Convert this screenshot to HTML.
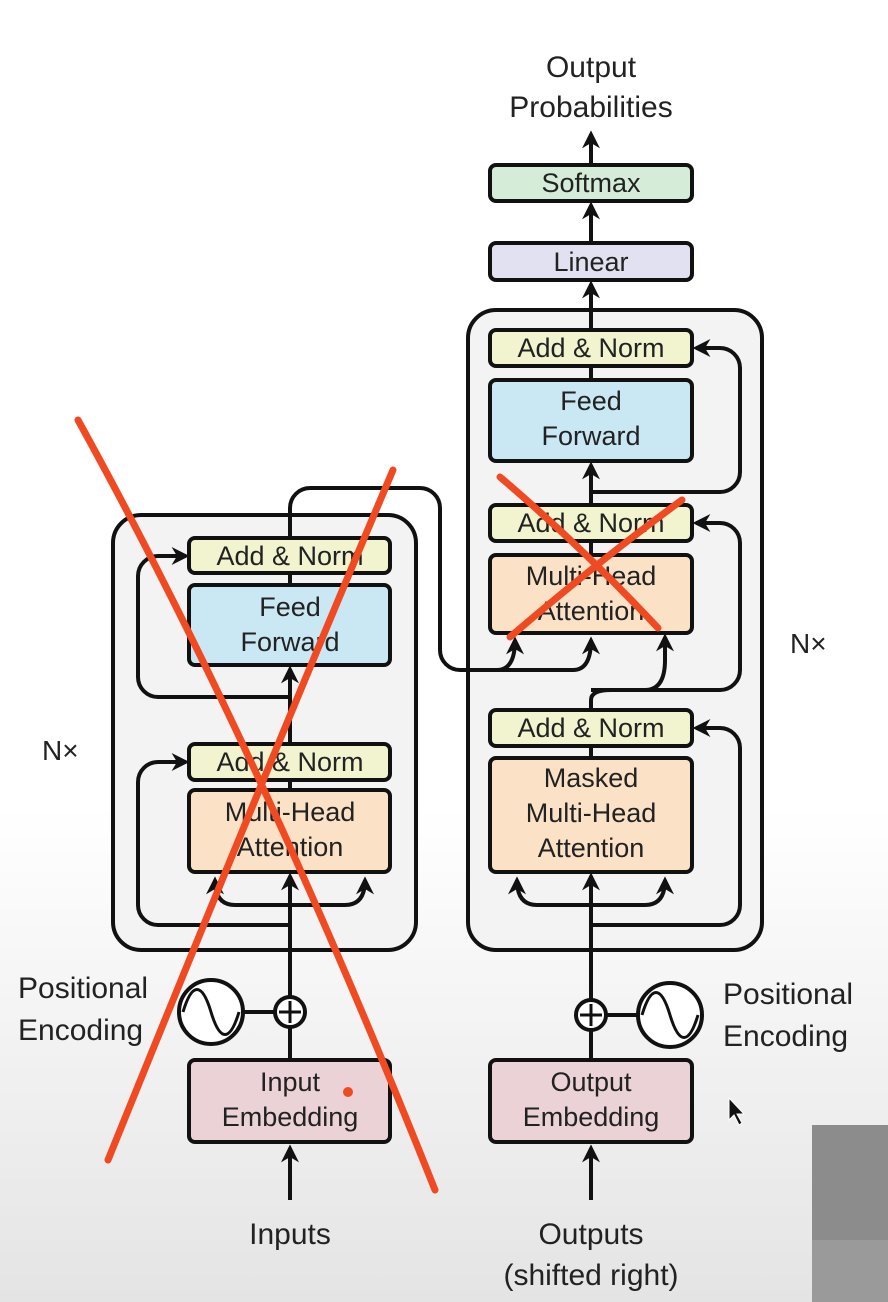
<!DOCTYPE html>
<html><head><meta charset="utf-8"><style>
html,body{margin:0;padding:0;width:888px;height:1302px;overflow:hidden;background:#fff}
svg{display:block}
text{font-family:"Liberation Sans",sans-serif;fill:#222}
</style></head><body>
<svg width="888" height="1302" viewBox="0 0 888 1302" xmlns="http://www.w3.org/2000/svg">
<defs>
<linearGradient id="bg" x1="0" y1="0" x2="0" y2="1">
<stop offset="0" stop-color="#fff"/><stop offset="0.62" stop-color="#fff"/><stop offset="1" stop-color="#e4e4e4"/>
</linearGradient>
<marker id="a" viewBox="0 0 10 10" refX="8" refY="5" markerWidth="4.5" markerHeight="4.5" orient="auto"><path d="M0,0L10,5L0,10L3,5z" fill="#111"/></marker>
</defs>
<rect width="888" height="1302" fill="url(#bg)"/>
<rect x="812" y="1125" width="76" height="177" fill="#8c8c8c"/>
<rect x="812" y="1240" width="76" height="62" fill="#9a9a9a"/>
<g stroke="#111" stroke-width="4" fill="none">
<rect x="113" y="515" width="303" height="435" rx="28" fill="#f3f3f3"/>
<rect x="468" y="310" width="294" height="640" rx="28" fill="#f3f3f3"/>
</g>
<g stroke="#111" stroke-width="4" fill="none" stroke-linejoin="round">
<path d="M290,1200V1148" marker-end="url(#a)"/>
<path d="M290,1060V1028"/>
<path d="M290,996V876" marker-end="url(#a)"/>
<path d="M290,925H158a20,20 0 0 1-20-20V782a20,20 0 0 1 20-20H186" marker-end="url(#a)"/>
<path d="M290,905H235q-20,0-20-25" marker-end="url(#a)"/>
<path d="M290,905H345q20,0 20-25" marker-end="url(#a)"/>
<path d="M290,790V780"/><path d="M290,744V669" marker-end="url(#a)"/>
<path d="M290,697H158a20,20 0 0 1-20-20V576a20,20 0 0 1 20-20H186" marker-end="url(#a)"/>
<path d="M290,585V573"/>
<path d="M290,538V508a20,20 0 0 1 20-20H420a20,20 0 0 1 20,20V650a20,20 0 0 0 20,20H497q18,0 18-30" marker-end="url(#a)"/>
<path d="M497,670H573q18,0 18-30" marker-end="url(#a)"/>
<path d="M243,1012H275"/>
<path d="M591,1200V1148" marker-end="url(#a)"/>
<path d="M591,1060V1031"/>
<path d="M591,999V876" marker-end="url(#a)"/>
<path d="M607,1015H638"/>
<path d="M591,925H720a20,20 0 0 0 20-20V748a20,20 0 0 0-20-20H696" marker-end="url(#a)"/>
<path d="M591,905H537q-20,0-20-25" marker-end="url(#a)"/>
<path d="M591,905H645q20,0 20-25" marker-end="url(#a)"/>
<path d="M591,758V746"/>
<path d="M591,710V700q0-10 20-10H645q20,0 20-30V637" marker-end="url(#a)"/>
<path d="M591,690H720a20,20 0 0 0 20-20V543a20,20 0 0 0-20-20H696" marker-end="url(#a)"/>
<path d="M591,555V541"/>
<path d="M591,505V465" marker-end="url(#a)"/>
<path d="M591,492H720a20,20 0 0 0 20-20V368a20,20 0 0 0-20-20H696" marker-end="url(#a)"/>
<path d="M591,380V366"/>
<path d="M591,330V284" marker-end="url(#a)"/>
<path d="M591,243V205" marker-end="url(#a)"/>
<path d="M591,165V134" marker-end="url(#a)"/>
</g>
<g stroke="#111" stroke-width="4">
<rect x="189" y="538" width="201" height="35" rx="6" fill="#f1f4cf"/>
<rect x="189" y="585" width="201" height="80" rx="6" fill="#c9e8f4"/>
<rect x="189" y="744" width="201" height="36" rx="6" fill="#f1f4cf"/>
<rect x="189" y="790" width="201" height="82" rx="6" fill="#fbe2c6"/>
<rect x="189" y="1060" width="201" height="82" rx="6" fill="#ebd2d6"/>
<rect x="490" y="330" width="202" height="36" rx="6" fill="#f1f4cf"/>
<rect x="490" y="380" width="202" height="81" rx="6" fill="#c9e8f4"/>
<rect x="490" y="505" width="202" height="36" rx="6" fill="#f1f4cf"/>
<rect x="490" y="555" width="202" height="78" rx="6" fill="#fbe2c6"/>
<rect x="490" y="710" width="202" height="36" rx="6" fill="#f1f4cf"/>
<rect x="490" y="758" width="202" height="114" rx="6" fill="#fbe2c6"/>
<rect x="490" y="243" width="202" height="37" rx="6" fill="#e1e1f1"/>
<rect x="490" y="165" width="202" height="36" rx="6" fill="#d5ecd9"/>
<rect x="490" y="1060" width="202" height="82" rx="6" fill="#ebd2d6"/>
<circle cx="211" cy="1012" r="32" fill="#fff"/>
<circle cx="290" cy="1012" r="15" fill="#fff"/>
<circle cx="670" cy="1015" r="32" fill="#fff"/>
<circle cx="591" cy="1015" r="15" fill="#fff"/>
</g>
<g stroke="#111" stroke-width="3" fill="none">
<path d="M279,1012H301M290,1001V1023M580,1015H602M591,1004V1026"/>
<path d="M183,1012c9,-30 19,-30 28,0s19,30 28,0"/>
<path d="M642,1015c9,-30 19,-30 28,0s19,30 28,0"/>
</g>
<g font-size="27" text-anchor="middle">
<text x="290" y="565">Add &amp; Norm</text>
<text x="290" y="616">Feed</text><text x="290" y="651">Forward</text>
<text x="290" y="771">Add &amp; Norm</text>
<text x="290" y="821">Multi-Head</text><text x="290" y="856">Attention</text>
<text x="290" y="1091">Input</text><text x="290" y="1126">Embedding</text>
<text x="591" y="357">Add &amp; Norm</text>
<text x="591" y="410">Feed</text><text x="591" y="445">Forward</text>
<text x="591" y="532">Add &amp; Norm</text>
<text x="591" y="585">Multi-Head</text><text x="591" y="620">Attention</text>
<text x="591" y="737">Add &amp; Norm</text>
<text x="591" y="787">Masked</text><text x="591" y="822">Multi-Head</text><text x="591" y="857">Attention</text>
<text x="591" y="271">Linear</text>
<text x="591" y="192">Softmax</text>
<text x="591" y="1091">Output</text><text x="591" y="1126">Embedding</text>
</g>
<g font-size="30" text-anchor="middle">
<text x="591" y="77">Output</text><text x="591" y="117">Probabilities</text>
<text x="290" y="1244">Inputs</text>
<text x="591" y="1244">Outputs</text><text x="591" y="1285">(shifted right)</text>
</g>
<g font-size="30">
<text x="18" y="998">Positional</text><text x="18" y="1040">Encoding</text>
<text x="723" y="1004">Positional</text><text x="723" y="1046">Encoding</text>
<text x="42" y="760" font-size="28">N×</text>
<text x="790" y="653" font-size="28">N×</text>
</g>
<path d="M729,1098L729,1120L734,1115L739,1125L742,1123L737,1114L744,1114z" fill="#111" stroke="#fff" stroke-width="1"/>
<g stroke="#f04a23" stroke-width="7" fill="none" stroke-linecap="round">
<path d="M78,420Q260,750 435,1190"/>
<path d="M393,470Q270,760 108,1160"/>
<path d="M500,477Q580,545 658,628"/>
<path d="M682,500Q600,560 510,637"/>
</g>
<circle cx="348" cy="1092" r="5" fill="#f04a23"/>
</svg>
</body></html>
